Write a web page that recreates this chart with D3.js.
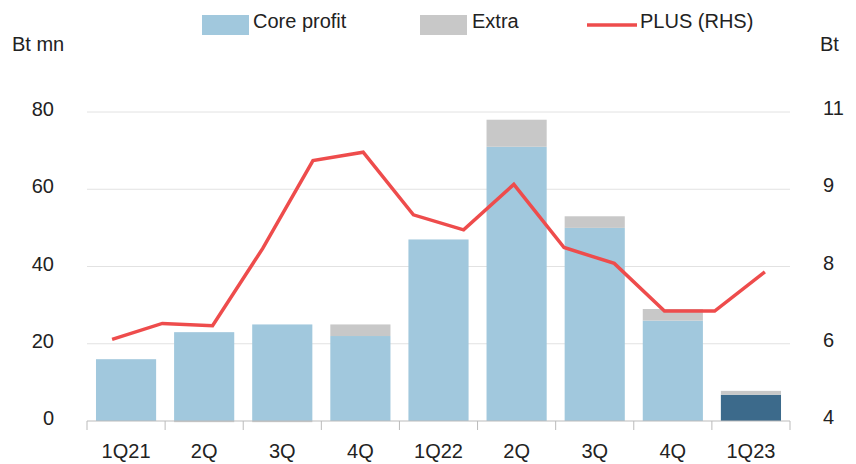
<!DOCTYPE html>
<html>
<head>
<meta charset="utf-8">
<script src="https://cdn.jsdelivr.net/npm/d3@7"></script>
<style>
  body { margin: 0; background: #fff; }
  text { font-family: "Liberation Sans", Arial, sans-serif; fill: #222; }
</style>
</head>
<body>
<div id="chart"></div>
<script>
// quarters on the bar axis
const quarters = ["1Q21", "2Q", "3Q", "4Q", "1Q22", "2Q", "3Q", "4Q", "1Q23"];
// Bt mn, left axis
const coreProfit = [16, 23, 25, 22, 47, 71, 50, 26, 6.8];
const extra = [0, -0.3, -0.3, 3, 0, 7, 3, 3, 1];
// PLUS share price (Bt), right axis, 14 observations spread over the width
const plusPrice = [5.85, 6.21, 6.16, 7.91, 9.9, 10.09, 8.67, 8.33, 9.36, 7.93, 7.57, 6.49, 6.49, 7.38];
const leftTicks = [0, 20, 40, 60, 80];
const rightTicks = [4, 5.75, 7.5, 9.25, 11];
const rightTickLabels = ["4", "6", "8", "9", "11"];

const W = 856, H = 464;
const margin = {top: 112, right: 66, bottom: 43, left: 87};
const width = W - margin.left - margin.right,
      height = H - margin.top - margin.bottom;
const fontSize = "20px";

const svg = d3.select("#chart").append("svg")
    .attr("width", W).attr("height", H);
const g = svg.append("g")
    .attr("transform", `translate(${margin.left},${margin.top})`);

const x = d3.scaleBand()
    .domain(d3.range(quarters.length))
    .range([0, width])
    .paddingInner(0.23)
    .paddingOuter(0.115);
const xBound = d3.scaleBand()
    .domain(d3.range(quarters.length))
    .range([0, width]);
const xLine = d3.scaleBand()
    .domain(d3.range(plusPrice.length))
    .range([0, width]);

const y = d3.scaleLinear().domain([0, 80]).range([height, 0]);
const y2 = d3.scaleLinear().domain([4, 11]).range([height, 0]);

// gridlines
g.append("g")
    .selectAll("line")
    .data(leftTicks.filter(d => d > 0))
    .enter().append("line")
    .attr("x1", 0).attr("x2", width)
    .attr("y1", d => y(d)).attr("y2", d => y(d))
    .attr("stroke", "#e2e2e2").attr("stroke-width", 1);

// left axis labels
g.append("g")
    .selectAll("text")
    .data(leftTicks)
    .enter().append("text")
    .attr("x", -33).attr("y", d => y(d))
    .attr("dy", "0.2em")
    .attr("text-anchor", "end")
    .style("font-size", fontSize)
    .text(d => d);

// right axis labels
g.append("g")
    .selectAll("text")
    .data(rightTicks)
    .enter().append("text")
    .attr("x", width + 33).attr("y", d => y2(d))
    .attr("dy", "0.15em")
    .attr("text-anchor", "start")
    .style("font-size", fontSize)
    .text((d, i) => rightTickLabels[i]);

// bars
const bars = g.append("g");
quarters.forEach((q, i) => {
    const core = coreProfit[i], ex = extra[i];
    const isLast = i === quarters.length - 1;
    bars.append("rect")
        .attr("x", x(i)).attr("width", x.bandwidth())
        .attr("y", y(core)).attr("height", y(0) - y(core))
        .attr("fill", isLast ? "#3c6a8b" : "#a1c8dd");
    if (ex > 0) {
        bars.append("rect")
            .attr("x", x(i)).attr("width", x.bandwidth())
            .attr("y", y(core + ex)).attr("height", y(core) - y(core + ex))
            .attr("fill", "#c8c8c8");
    } else if (ex < 0) {
        bars.append("rect")
            .attr("x", x(i)).attr("width", x.bandwidth())
            .attr("y", y(0)).attr("height", y(ex) - y(0))
            .attr("fill", "#c8c8c8");
    }
});

// bottom axis
const xAxis = g.append("g").attr("transform", `translate(0,${height})`);
xAxis.append("line")
    .attr("x1", 0).attr("x2", width)
    .attr("stroke", "#bbb");
xAxis.selectAll(".tk")
    .data(d3.range(quarters.length + 1))
    .enter().append("line")
    .attr("x1", d => d * xBound.step()).attr("x2", d => d * xBound.step())
    .attr("y1", 0).attr("y2", 9)
    .attr("stroke", "#bbb");
xAxis.selectAll("text")
    .data(quarters)
    .enter().append("text")
    .attr("x", (d, i) => xBound(i) + xBound.bandwidth() / 2)
    .attr("y", 37)
    .attr("text-anchor", "middle")
    .style("font-size", fontSize)
    .text(d => d);

// PLUS line
const line = d3.line()
    .x((d, i) => xLine(i) + xLine.bandwidth() / 2)
    .y(d => y2(d));
g.append("path")
    .datum(plusPrice)
    .attr("d", line)
    .attr("fill", "none")
    .attr("stroke", "#ee4c4c")
    .attr("stroke-width", 3.5)
    .attr("stroke-linejoin", "miter");

// axis titles
svg.append("text").attr("x", 12).attr("y", 51)
    .style("font-size", fontSize).text("Bt mn");
svg.append("text").attr("x", 820).attr("y", 51)
    .style("font-size", fontSize).text("Bt");

// legend
const legend = svg.append("g");
legend.append("rect").attr("x", 202).attr("y", 15).attr("width", 47).attr("height", 20).attr("fill", "#a1c8dd");
legend.append("text").attr("x", 253).attr("y", 28).style("font-size", fontSize).text("Core profit");
legend.append("rect").attr("x", 420).attr("y", 15).attr("width", 47).attr("height", 20).attr("fill", "#c8c8c8");
legend.append("text").attr("x", 472).attr("y", 28).style("font-size", fontSize).text("Extra");
legend.append("line").attr("x1", 587).attr("x2", 637).attr("y1", 25).attr("y2", 25)
    .attr("stroke", "#ee4c4c").attr("stroke-width", 3.5);
legend.append("text").attr("x", 640).attr("y", 28).style("font-size", fontSize).text("PLUS (RHS)");
</script>
</body>
</html>
